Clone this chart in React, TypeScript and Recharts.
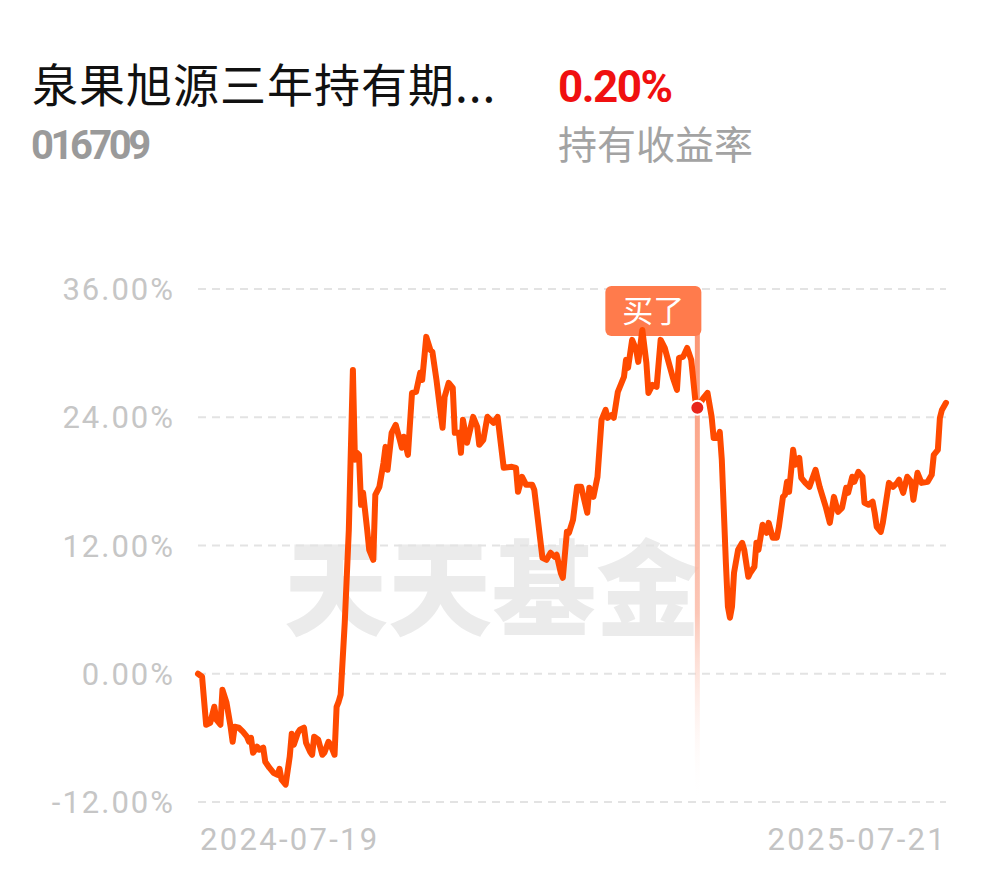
import React from 'react';
import { LineChart, Line, XAxis, YAxis, CartesianGrid, ReferenceLine, ReferenceDot } from 'recharts';

const fundName = '泉果旭源三年持有期...';
const fundCode = '016709';
const holdReturn = '0.20%';
const holdReturnLabel = '持有收益率';
const watermark = '天天基金';

const xTickLabels = ['2024-07-19', '2025-07-21'];
const xTickDays = [0, 367];
const yTicks = [-12, 0, 12, 24, 36];

const days = [
  0, 2, 4, 6, 8, 9, 11, 12, 14, 16,
  17, 18, 20, 22, 24, 25, 26, 27, 29, 30,
  32, 33, 35, 37, 39, 40, 41, 43, 45, 46,
  47, 49, 50, 52, 53, 55, 56, 57, 59, 61,
  62, 64, 65, 67, 68, 69, 70, 72, 74, 76,
  77, 78, 79, 80, 81, 83, 84, 86, 87, 89,
  91, 92, 93, 95, 97, 99, 100, 101, 103, 105,
  107, 109, 110, 112, 114, 115, 117, 119, 120, 121,
  123, 125, 126, 128, 129, 130, 132, 135, 137, 138,
  140, 142, 145, 147, 150, 154, 156, 157, 159, 161,
  164, 165, 169, 171, 173, 175, 176, 178, 179, 181,
  182, 184, 186, 188, 191, 192, 194, 196, 198, 200,
  201, 203, 204, 206, 208, 209, 210, 211, 213, 215,
  216, 218, 220, 221, 223, 225, 227, 229, 231, 233,
  235, 236, 238, 240, 242, 244, 245, 248, 250, 252,
  253, 255, 256, 257, 259, 260, 261, 262, 263, 265,
  267, 268, 270, 271, 273, 274, 275, 277, 279, 280,
  282, 284, 285, 287, 288, 289, 290, 292, 293, 295,
  296, 298, 300, 303, 305, 308, 310, 312, 314, 316,
  318, 319, 321, 322, 324, 326, 327, 329, 331, 332,
  333, 335, 336, 339, 341, 343, 344, 345, 346, 348,
  350, 351, 353, 355, 358, 360, 361, 363, 364, 365,
  367,
];

const returns = [
  0.0, -0.28, -4.77, -4.58, -3.09, -4.3, -4.77, -1.5, -2.71, -4.96,
  -6.36, -4.96, -5.05, -5.42, -5.89, -6.36, -5.99, -7.39, -6.83, -7.11,
  -6.92, -8.23, -8.79, -9.26, -9.45, -8.89, -9.91, -10.38, -7.76, -5.61,
  -6.64, -5.52, -5.24, -5.05, -6.45, -7.3, -7.58, -5.89, -6.17, -7.58,
  -7.39, -6.36, -6.64, -7.58, -3.09, -2.62, -1.96, 4.77, 13.47, 28.43,
  20.02, 20.67, 20.48, 15.81, 16.93, 13.47, 11.6, 10.66, 16.74, 17.49,
  19.73, 21.23, 19.08, 22.54, 23.29, 21.89, 21.14, 22.17, 20.48, 26.28,
  26.38, 28.15, 27.5, 31.52, 30.3, 30.12, 27.5, 24.41, 23.01, 25.91,
  27.22, 26.75, 22.54, 22.54, 20.67, 23.76, 21.61, 24.04, 23.1, 21.42,
  21.89, 24.04, 23.48, 24.04, 19.27, 19.36, 19.27, 17.02, 18.43, 17.68,
  17.68, 17.21, 10.85, 10.66, 11.32, 10.94, 11.13, 9.45, 8.98, 13.28,
  13.19, 14.4, 17.49, 17.49, 15.06, 17.4, 16.55, 18.43, 23.76, 24.69,
  23.94, 24.22, 23.94, 26.38, 27.31, 27.78, 29.37, 28.62, 31.24, 30.3,
  29.18, 32.17, 29.09, 26.28, 27.03, 26.84, 31.24, 30.49, 29.09, 27.69,
  26.56, 29.56, 29.65, 30.49, 29.37, 25.63, 24.88, 25.81, 26.28, 24.04,
  22.07, 22.07, 22.63, 20.02, 10.38, 6.27, 5.24, 6.27, 9.45, 11.6,
  12.25, 11.6, 9.07, 9.45, 10.01, 12.25, 11.6, 13.94, 13.19, 14.12,
  12.72, 12.72, 13.75, 16.55, 16.74, 17.96, 17.02, 20.95, 19.55, 20.2,
  18.33, 17.86, 17.49, 19.08, 17.49, 15.62, 14.12, 16.55, 15.15, 15.53,
  17.4, 16.93, 18.43, 17.96, 18.89, 18.43, 15.99, 15.81, 16.09, 15.06,
  13.75, 13.28, 14.12, 17.86, 17.49, 17.86, 18.15, 17.49, 16.93, 18.43,
  17.96, 16.27, 18.8, 17.86, 17.96, 18.61, 20.48, 20.95, 23.94, 24.69,
  25.35,
];

const buyDay = 245;
const buyValue = 24.88;
const buyLabel = '买了';

const data = days.map((d, i) => ({ day: d, value: returns[i] }));

const XTick = (props: any) => {
  const { x, y, payload, index } = props;
  const idx = xTickDays.indexOf(payload.value);
  const label = idx >= 0 ? xTickLabels[idx] : '';
  return (
    <text
      x={index === 0 ? x + 2 : x + 1}
      y={y + 40}
      textAnchor={index === 0 ? 'start' : 'end'}
      fill="#c4c4c4"
      fontSize={31}
      fontFamily="Roboto"
      letterSpacing={2.3}
    >
      {label}
    </text>
  );
};

const BuyLabel = (props: any) => {
  const vb = props.viewBox || {};
  const x = vb.x;
  const y = vb.y;
  return (
    <g>
      <rect x={x - 92} y={y - 3} width={96} height={50} rx={6} ry={6} fill="#ff7b4c" />
      <text
        x={x - 44}
        y={y + 33}
        textAnchor="middle"
        fill="#ffffff"
        fontSize={31}
        fontFamily="Noto Sans CJK SC"
      >
        {buyLabel}
      </text>
    </g>
  );
};

export default function App() {
  return (
    <div style={{ position: 'absolute', left: 0, top: 0, width: 990, height: 878, background: '#fff' }}>
      <svg
        width={990}
        height={878}
        style={{ position: 'absolute', left: 0, top: 0 }}
      >
        <text x={32} y={102} fontSize={46} fill="#111" fontFamily="Noto Sans CJK SC" letterSpacing={1}>
          {fundName}
        </text>
        <text x={558} y={102} fontSize={44} fontWeight={700} fill="#f01010" fontFamily="Roboto" letterSpacing={-1.5}>
          {holdReturn}
        </text>
        <text x={31} y={159} fontSize={40} fontWeight={700} fill="#9a9a9a" fontFamily="Roboto" letterSpacing={-3.5}>
          {fundCode}
        </text>
        <text x={558} y={159} fontSize={39} fill="#a3a3a3" fontFamily="Noto Sans CJK SC">
          {holdReturnLabel}
        </text>
        <text x={284} y={628} fontSize={104} fontWeight={900} fill="#ebebeb" fontFamily="Noto Sans CJK SC">
          {watermark}
        </text>
      </svg>
      <div style={{ position: 'absolute', left: 0, top: 0 }}>
        <LineChart
          width={990}
          height={878}
          data={data}
          margin={{ top: 289, right: 44, left: 0, bottom: 0 }}
        >
          <defs>
            <linearGradient id="buyGrad" gradientUnits="userSpaceOnUse" x1={0} y1={330} x2={0} y2={802}>
              <stop offset="0%" stopColor="#fb8f6b" stopOpacity={0.95} />
              <stop offset="60%" stopColor="#fbb8a4" stopOpacity={0.8} />
              <stop offset="100%" stopColor="#ffffff" stopOpacity={0} />
            </linearGradient>
          </defs>
          <CartesianGrid
            horizontal={true}
            vertical={false}
            stroke="#e3e3e3"
            strokeWidth={2}
            strokeDasharray="8 6"
          />
          <XAxis
            dataKey="day"
            type="number"
            domain={[0, 367]}
            ticks={xTickDays}
            axisLine={false}
            tickLine={false}
            height={76}
            tick={<XTick />}
            interval={0}
          />
          <YAxis
            type="number"
            domain={[-12, 36]}
            ticks={yTicks}
            width={198}
            axisLine={false}
            tickLine={false}
            tickMargin={17}
            tick={{ fill: '#c6c6c6', fontSize: 31, fontFamily: 'Roboto', letterSpacing: 2 }}
            tickFormatter={(v: number) => `${v.toFixed(2)}%`}
            interval={0}
          />
          <ReferenceLine
            x={buyDay}
            stroke="url(#buyGrad)"
            strokeWidth={5}
            label={<BuyLabel />}
          />
          <Line
            type="linear"
            dataKey="value"
            stroke="#ff4a00"
            strokeWidth={6}
            strokeLinejoin="round"
            strokeLinecap="round"
            dot={false}
            activeDot={false}
            isAnimationActive={false}
          />
          <ReferenceDot
            x={buyDay}
            y={buyValue}
            r={7}
            fill="#e8261c"
            stroke="#ffffff"
            strokeWidth={2}
          />
        </LineChart>
      </div>
    </div>
  );
}
